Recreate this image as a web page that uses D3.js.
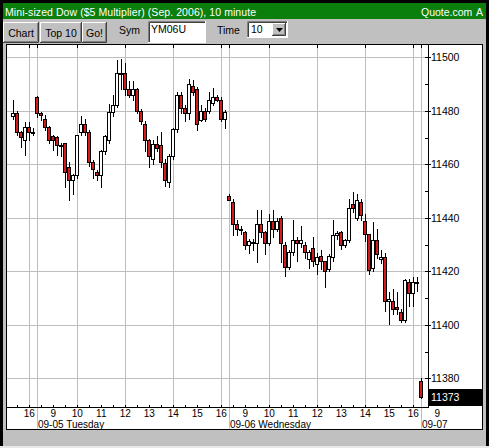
<!DOCTYPE html>
<html>

<head>
    <title>Mini-sized Dow 10 minute</title>
    <script src="https://d3js.org/d3.v7.min.js"></script>
    <meta http-equiv="Content-Type" content="text/html; charset=utf-8">
    <style>
        body { margin: 0; background: #000; }
        svg { display: block; }
        text { font-family: "Liberation Sans", Arial, sans-serif; }
    </style>
</head>

<body>
    <script>
        // sessions shown on the chart (first and last 10 minute bar of each day)
        const days = ["09-01", "09-05", "09-06", "09-07"];
        const dayFirstBar = ["15:20", "08:20", "08:20", "08:20"];
        const dayLastBar = ["16:10", "16:10", "16:10", "08:20"];

        // OHLC of each bar
        const opens = [11478.2, 11479.2, 11472, 11469.2, 11474, 11472.2,
            11485.2, 11479, 11477, 11474, 11470.5, 11470.2, 11467.4, 11467.9, 11458.9, 11454.1, 11456, 11472,
            11475, 11472, 11461, 11457, 11456, 11465, 11469, 11479.4, 11482.1, 11494, 11494.1, 11488.1,
            11486, 11488.1, 11480, 11475, 11469.1, 11461.9, 11467.6, 11467.1, 11460.4, 11453.5, 11463.1,
            11473.1, 11486, 11481, 11479.1, 11489.1, 11488.1, 11476.6, 11480, 11480, 11482.9, 11485.1,
            11484.1, 11477,
            11448, 11446, 11437.8, 11435.9, 11434.6, 11430, 11430.5, 11430.6, 11437.8, 11434.6, 11430.6,
            11438.8, 11435.9, 11440, 11430, 11421.5, 11427.1, 11431.8, 11430.6, 11429.9, 11424.6, 11428.8,
            11422.8, 11425.9, 11423.8, 11420.9, 11425.5, 11433.6, 11434.6, 11430, 11431.8, 11445, 11439.9,
            11445.9, 11438.8, 11433.8, 11421.2, 11431.8, 11424.6, 11425.5, 11409, 11409, 11406.8, 11404.6,
            11401.8, 11415.9, 11411.8, 11415.9,
            11379];
        const highs = [11484, 11480, 11472.5, 11475.8, 11475.8, 11473.5,
            11485.5, 11479.5, 11478.5, 11474.5, 11471, 11470.5, 11468, 11468, 11461, 11456.5, 11471, 11477.9,
            11476.9, 11473, 11461.5, 11458, 11465.5, 11471, 11482.5, 11486, 11499.1, 11499.5, 11497.9, 11491,
            11491, 11488.5, 11480.5, 11476, 11469.5, 11469, 11470.5, 11471.9, 11462, 11464, 11473.5,
            11487, 11487, 11482, 11491.9, 11491.6, 11489, 11482, 11481, 11487, 11488.5, 11486,
            11485, 11480.4,
            11449, 11447, 11439, 11437, 11435, 11432, 11432, 11443, 11443, 11435, 11441.5,
            11443, 11440, 11440.5, 11431, 11428, 11439, 11433, 11437, 11431, 11428, 11432.8,
            11427, 11427.8, 11424, 11426.5, 11439, 11435, 11435, 11432, 11447.1, 11449.6, 11449,
            11447, 11441.5, 11434, 11438.4, 11435.9, 11427.8, 11427, 11412.1, 11413.4, 11412.1, 11406,
            11417, 11417, 11417.8, 11418,
            11380];
        const lows = [11476.8, 11471, 11466.5, 11463.6, 11469.2, 11471,
            11477.5, 11476.5, 11473, 11468, 11465.4, 11463.5, 11463, 11451.6, 11446.6, 11449, 11455, 11471,
            11471, 11459.5, 11455, 11454, 11451.6, 11464, 11468, 11478, 11481.5, 11488, 11486, 11485,
            11484, 11479, 11475, 11465, 11459.1, 11460, 11465, 11459, 11452, 11451.6, 11462,
            11472, 11479, 11476, 11477, 11486, 11472.9, 11476, 11476, 11479, 11482, 11483.5,
            11476, 11473.5,
            11446.5, 11433.4, 11433.4, 11434, 11428.4, 11427, 11428, 11423.4, 11433, 11426.5, 11430,
            11433, 11435, 11423.4, 11418.1, 11421, 11426, 11424, 11429, 11425, 11421.2, 11422,
            11419, 11421, 11414, 11420, 11424, 11432, 11428.4, 11429, 11431, 11442.1, 11439,
            11439, 11431.5, 11419, 11420, 11425, 11423, 11405.2, 11400.2, 11404, 11404, 11400.9,
            11401, 11407.1, 11407.1, 11412.8,
            11372.5];
        const closes = [11479.2, 11472, 11470.2, 11474, 11472.2, 11472.2,
            11479.2, 11478.5, 11474, 11469.2, 11469, 11467.4, 11467, 11457, 11454.1, 11456, 11470.8, 11475,
            11472, 11461, 11458.1, 11456, 11465, 11470.4, 11479.4, 11482.1, 11494.1, 11494.2, 11488.1, 11486,
            11488.1, 11480, 11476, 11469.1, 11463.1, 11467.6, 11466, 11461, 11454.1, 11463.1, 11473.1,
            11486, 11481, 11479.1, 11490, 11487, 11475, 11480, 11477, 11484.1, 11485.1, 11484.1,
            11477, 11479.4,
            11446.8, 11437.8, 11435.9, 11435.9, 11430, 11431.5, 11431, 11437.8, 11434.6, 11430.6, 11438.8,
            11435.9, 11438.8, 11430.6, 11421.5, 11427.1, 11431.8, 11430.6, 11431.8, 11427.1, 11427.1, 11423.8,
            11425.5, 11423.8, 11420, 11425.9, 11433.6, 11434.2, 11430, 11431.8, 11443.8, 11443.8, 11446.8,
            11440.9, 11433.8, 11420.5, 11431.8, 11426.5, 11425.5, 11409, 11409.6, 11405.9, 11405.9, 11401.8,
            11416.8, 11411.8, 11415.9, 11415.9,
            11373];

        // axis ticks
        const priceTicks = [11380, 11400, 11420, 11440, 11460, 11480, 11500];
        const priceMinor = [11390, 11410, 11430, 11450, 11470, 11490];
        const hourTimes = ["09-01 16:00", "09-05 09:00", "09-05 10:00", "09-05 11:00", "09-05 12:00",
            "09-05 13:00", "09-05 14:00", "09-05 15:00", "09-05 16:00", "09-06 09:00", "09-06 10:00",
            "09-06 11:00", "09-06 12:00", "09-06 13:00", "09-06 14:00", "09-06 15:00", "09-06 16:00",
            "09-07 09:00"];
        const hourLabels = ["16", "9", "10", "11", "12", "13", "14", "15", "16",
            "9", "10", "11", "12", "13", "14", "15", "16", "9"];
        const gridTimes = ["09-01 16:00", "09-05 10:00", "09-05 12:00", "09-05 14:00", "09-05 16:00",
            "09-06 10:00", "09-06 12:00", "09-06 14:00", "09-06 16:00"];
        const dateLabels = ["09-05 Tuesday", "09-06 Wednesday", "09-07"];

        const toMin = (s) => +s.split(":")[0] * 60 + +s.split(":")[1];

        // bar index of a "MM-DD HH:MM" time, counted through the sessions
        function barIndex(t) {
            const [d, hm] = t.split(" ");
            let idx = 0;
            for (let k = 0; k < days.length; k++) {
                if (days[k] === d) return idx + (toMin(hm) - toMin(dayFirstBar[k])) / 10;
                idx += (toMin(dayLastBar[k]) - toMin(dayFirstBar[k])) / 10 + 1;
            }
        }

        // list of bar times
        const barTimes = [];
        days.forEach((d, k) => {
            for (let m = toMin(dayFirstBar[k]); m <= toMin(dayLastBar[k]); m += 10) {
                barTimes.push(d + " " + String(Math.floor(m / 60)).padStart(2, "0") + ":" + String(m % 60).padStart(2, "0"));
            }
        });
        const bars = barTimes.map((t, i) => ({ t: t, o: opens[i], h: highs[i], l: lows[i], c: closes[i] }));

        const width = 489;
        const height = 448;
        const plot = { left: 7, right: 428, top: 45, bottom: 407 };

        const svg = d3.select("body")
            .append("svg")
            .attr("width", width)
            .attr("height", height);

        // frame and toolbar
        svg.append("rect").attr("width", width).attr("height", height).attr("fill", "#000");
        svg.append("rect").attr("x", 3).attr("y", 19).attr("width", 483).attr("height", 427).attr("fill", "#c0c0c0");
        svg.append("rect").attr("x", 0).attr("y", 446).attr("width", width).attr("height", 2).attr("fill", "#e8e8e8");
        svg.append("rect").attr("x", 3).attr("y", 3).attr("width", 483).attr("height", 16).attr("fill", "#0b7f0b");

        svg.append("text").attr("x", 5).attr("y", 15.5).attr("fill", "#fff").attr("font-size", 10.5)
            .attr("textLength", 251).text("Mini-sized Dow ($5 Multiplier) (Sep. 2006), 10 minute");
        svg.append("text").attr("x", 421).attr("y", 15.5).attr("fill", "#fff").attr("font-size", 10.5)
            .text("Quote.com");
        svg.append("text").attr("x", 476).attr("y", 15.5).attr("fill", "#fff").attr("font-size", 10.5)
            .text("A");

        // 3d box like the old windows widgets
        function bevel(x, y, w, h, raised) {
            const light = raised ? "#fff" : "#808080";
            const dark = raised ? "#404040" : "#fff";
            const g = svg.append("g");
            g.append("rect").attr("x", x).attr("y", y).attr("width", w).attr("height", h)
                .attr("fill", raised ? "#c0c0c0" : "#fff");
            g.append("path").attr("d", `M${x + 0.5},${y + h}V${y + 0.5}H${x + w}`)
                .attr("stroke", light).attr("fill", "none");
            g.append("path").attr("d", `M${x + w - 0.5},${y}V${y + h - 0.5}H${x}`)
                .attr("stroke", dark).attr("fill", "none");
            if (raised) {
                g.append("path").attr("d", `M${x + w - 1.5},${y + 1}V${y + h - 1.5}H${x + 1}`)
                    .attr("stroke", "#808080").attr("fill", "none");
            } else {
                g.append("path").attr("d", `M${x + 1.5},${y + h - 1}V${y + 1.5}H${x + w - 1}`)
                    .attr("stroke", "#404040").attr("fill", "none");
            }
            return g;
        }

        const buttons = [["Chart", 3, 36], ["Top 10", 40, 42], ["Go!", 82, 25]];
        buttons.forEach((b) => {
            bevel(b[1], 22, b[2], 21, true);
            svg.append("text").attr("x", b[1] + b[2] / 2).attr("y", 37).attr("text-anchor", "middle")
                .attr("font-size", 10.5).text(b[0]);
        });
        svg.append("text").attr("x", 119).attr("y", 34).attr("font-size", 10.5).text("Sym");
        bevel(148, 21, 58, 22, false);
        svg.append("text").attr("x", 151).attr("y", 33).attr("font-size", 10.5).text("YM06U");
        svg.append("text").attr("x", 217).attr("y", 34).attr("font-size", 10.5).text("Time");
        bevel(247, 21, 41, 17, false);
        svg.append("text").attr("x", 251).attr("y", 33).attr("font-size", 10.5).text("10");
        bevel(272, 23, 14, 13, true);
        svg.append("path").attr("d", "M276,28h7l-3.5,4z").attr("fill", "#000");

        // chart panel
        svg.append("rect").attr("x", 7).attr("y", 45).attr("width", 475).attr("height", 384).attr("fill", "#fff");
        svg.append("rect").attr("x", 6.5).attr("y", 44.5).attr("width", 476).attr("height", 385)
            .attr("fill", "none").attr("stroke", "#000");

        // scales
        const xScale = d3.scaleLinear()
            .domain([0, bars.length - 1])
            .range([13.3, 421.3]);
        const yScale = d3.scaleLinear()
            .domain([11380, 11500])
            .range([378.3, 57.3]);
        const px = (i) => Math.floor(xScale(i)) + 0.5;
        const py = (v) => Math.round(yScale(v)) + 0.5;

        const grid = "#bdbdbd";

        // horizontal grid
        svg.selectAll(".hgrid")
            .data(priceTicks)
            .enter()
            .append("line")
            .attr("x1", plot.left).attr("x2", plot.right)
            .attr("y1", (d) => py(d)).attr("y2", (d) => py(d))
            .attr("stroke", grid);

        // vertical grid and day separators
        svg.selectAll(".vgrid")
            .data(gridTimes)
            .enter()
            .append("line")
            .attr("x1", (d) => px(barIndex(d))).attr("x2", (d) => px(barIndex(d)))
            .attr("y1", plot.top).attr("y2", plot.bottom)
            .attr("stroke", grid);
        const sepIdx = days.slice(1).map((d, k) => barIndex(d + " " + dayFirstBar[k + 1]));
        svg.selectAll(".sep")
            .data(sepIdx)
            .enter()
            .append("line")
            .attr("x1", (d) => px(d)).attr("x2", (d) => px(d))
            .attr("y1", plot.top).attr("y2", 429)
            .attr("stroke", grid);

        // ticks along the top edge
        svg.selectAll(".ttick")
            .data(gridTimes.map(barIndex).concat(sepIdx))
            .enter()
            .append("line")
            .attr("x1", (d) => px(d)).attr("x2", (d) => px(d))
            .attr("y1", plot.top).attr("y2", plot.top + 3)
            .attr("stroke", "#000");

        // candles
        svg.selectAll(".wick")
            .data(bars)
            .enter()
            .append("line")
            .attr("x1", (d, i) => px(i)).attr("x2", (d, i) => px(i))
            .attr("y1", (d) => Math.round(yScale(d.h))).attr("y2", (d) => Math.round(yScale(d.l)) + 1)
            .attr("stroke", "#000");

        svg.selectAll(".body")
            .data(bars)
            .enter()
            .append("rect")
            .attr("x", (d, i) => px(i) - 2)
            .attr("y", (d) => py(Math.max(d.o, d.c)))
            .attr("width", 3)
            .attr("height", (d) => Math.max(1, py(Math.min(d.o, d.c)) - py(Math.max(d.o, d.c))))
            .attr("fill", (d) => d.c >= d.o ? "#fff" : "#d41a1a")
            .attr("stroke", "#000");

        // axis lines
        svg.append("line").attr("x1", plot.right + 0.5).attr("x2", plot.right + 0.5)
            .attr("y1", plot.top).attr("y2", plot.bottom + 1).attr("stroke", "#000");
        svg.append("line").attr("x1", plot.left).attr("x2", plot.right + 1)
            .attr("y1", plot.bottom + 0.5).attr("y2", plot.bottom + 0.5).attr("stroke", "#000");

        // price axis
        svg.selectAll(".ptick")
            .data(priceTicks)
            .enter()
            .append("line")
            .attr("x1", plot.right - 3).attr("x2", plot.right + 3)
            .attr("y1", (d) => py(d)).attr("y2", (d) => py(d))
            .attr("stroke", "#000");
        svg.selectAll(".pminor")
            .data(priceMinor)
            .enter()
            .append("line")
            .attr("x1", plot.right - 3).attr("x2", plot.right)
            .attr("y1", (d) => py(d)).attr("y2", (d) => py(d))
            .attr("stroke", "#000");
        svg.selectAll(".plabel")
            .data(priceTicks)
            .enter()
            .append("text")
            .attr("x", plot.right + 3)
            .attr("y", (d) => yScale(d))
            .attr("dy", "0.36em")
            .attr("font-size", 10.5)
            .text((d) => d);

        // last price box
        const last = closes[closes.length - 1];
        svg.append("rect").attr("x", plot.right + 1).attr("y", Math.round(yScale(last)) - 8)
            .attr("width", 53).attr("height", 17).attr("fill", "#000");
        svg.append("text").attr("x", plot.right + 3).attr("y", yScale(last)).attr("dy", "0.36em")
            .attr("font-size", 10.5).attr("fill", "#fff").text(last);

        // half hour ticks on the time axis
        const halfIdx = barTimes.map((t, i) => t.endsWith(":00") || t.endsWith(":30") ? i : -1).filter((i) => i >= 0);
        svg.selectAll(".btick")
            .data(halfIdx)
            .enter()
            .append("line")
            .attr("x1", (d) => px(d)).attr("x2", (d) => px(d))
            .attr("y1", plot.bottom - 2).attr("y2", plot.bottom)
            .attr("stroke", "#000");

        // hour and date labels
        svg.selectAll(".hlabel")
            .data(hourTimes)
            .enter()
            .append("text")
            .attr("x", (d) => xScale(barIndex(d)))
            .attr("y", 417)
            .attr("text-anchor", "middle")
            .attr("font-size", 10)
            .text((d, i) => hourLabels[i]);
        svg.selectAll(".dlabel")
            .data(dateLabels)
            .enter()
            .append("text")
            .attr("x", (d, i) => px(sepIdx[i]) + 0.5)
            .attr("y", 428.3)
            .attr("font-size", 10)
            .text((d) => d);
    </script>
</body>

</html>
